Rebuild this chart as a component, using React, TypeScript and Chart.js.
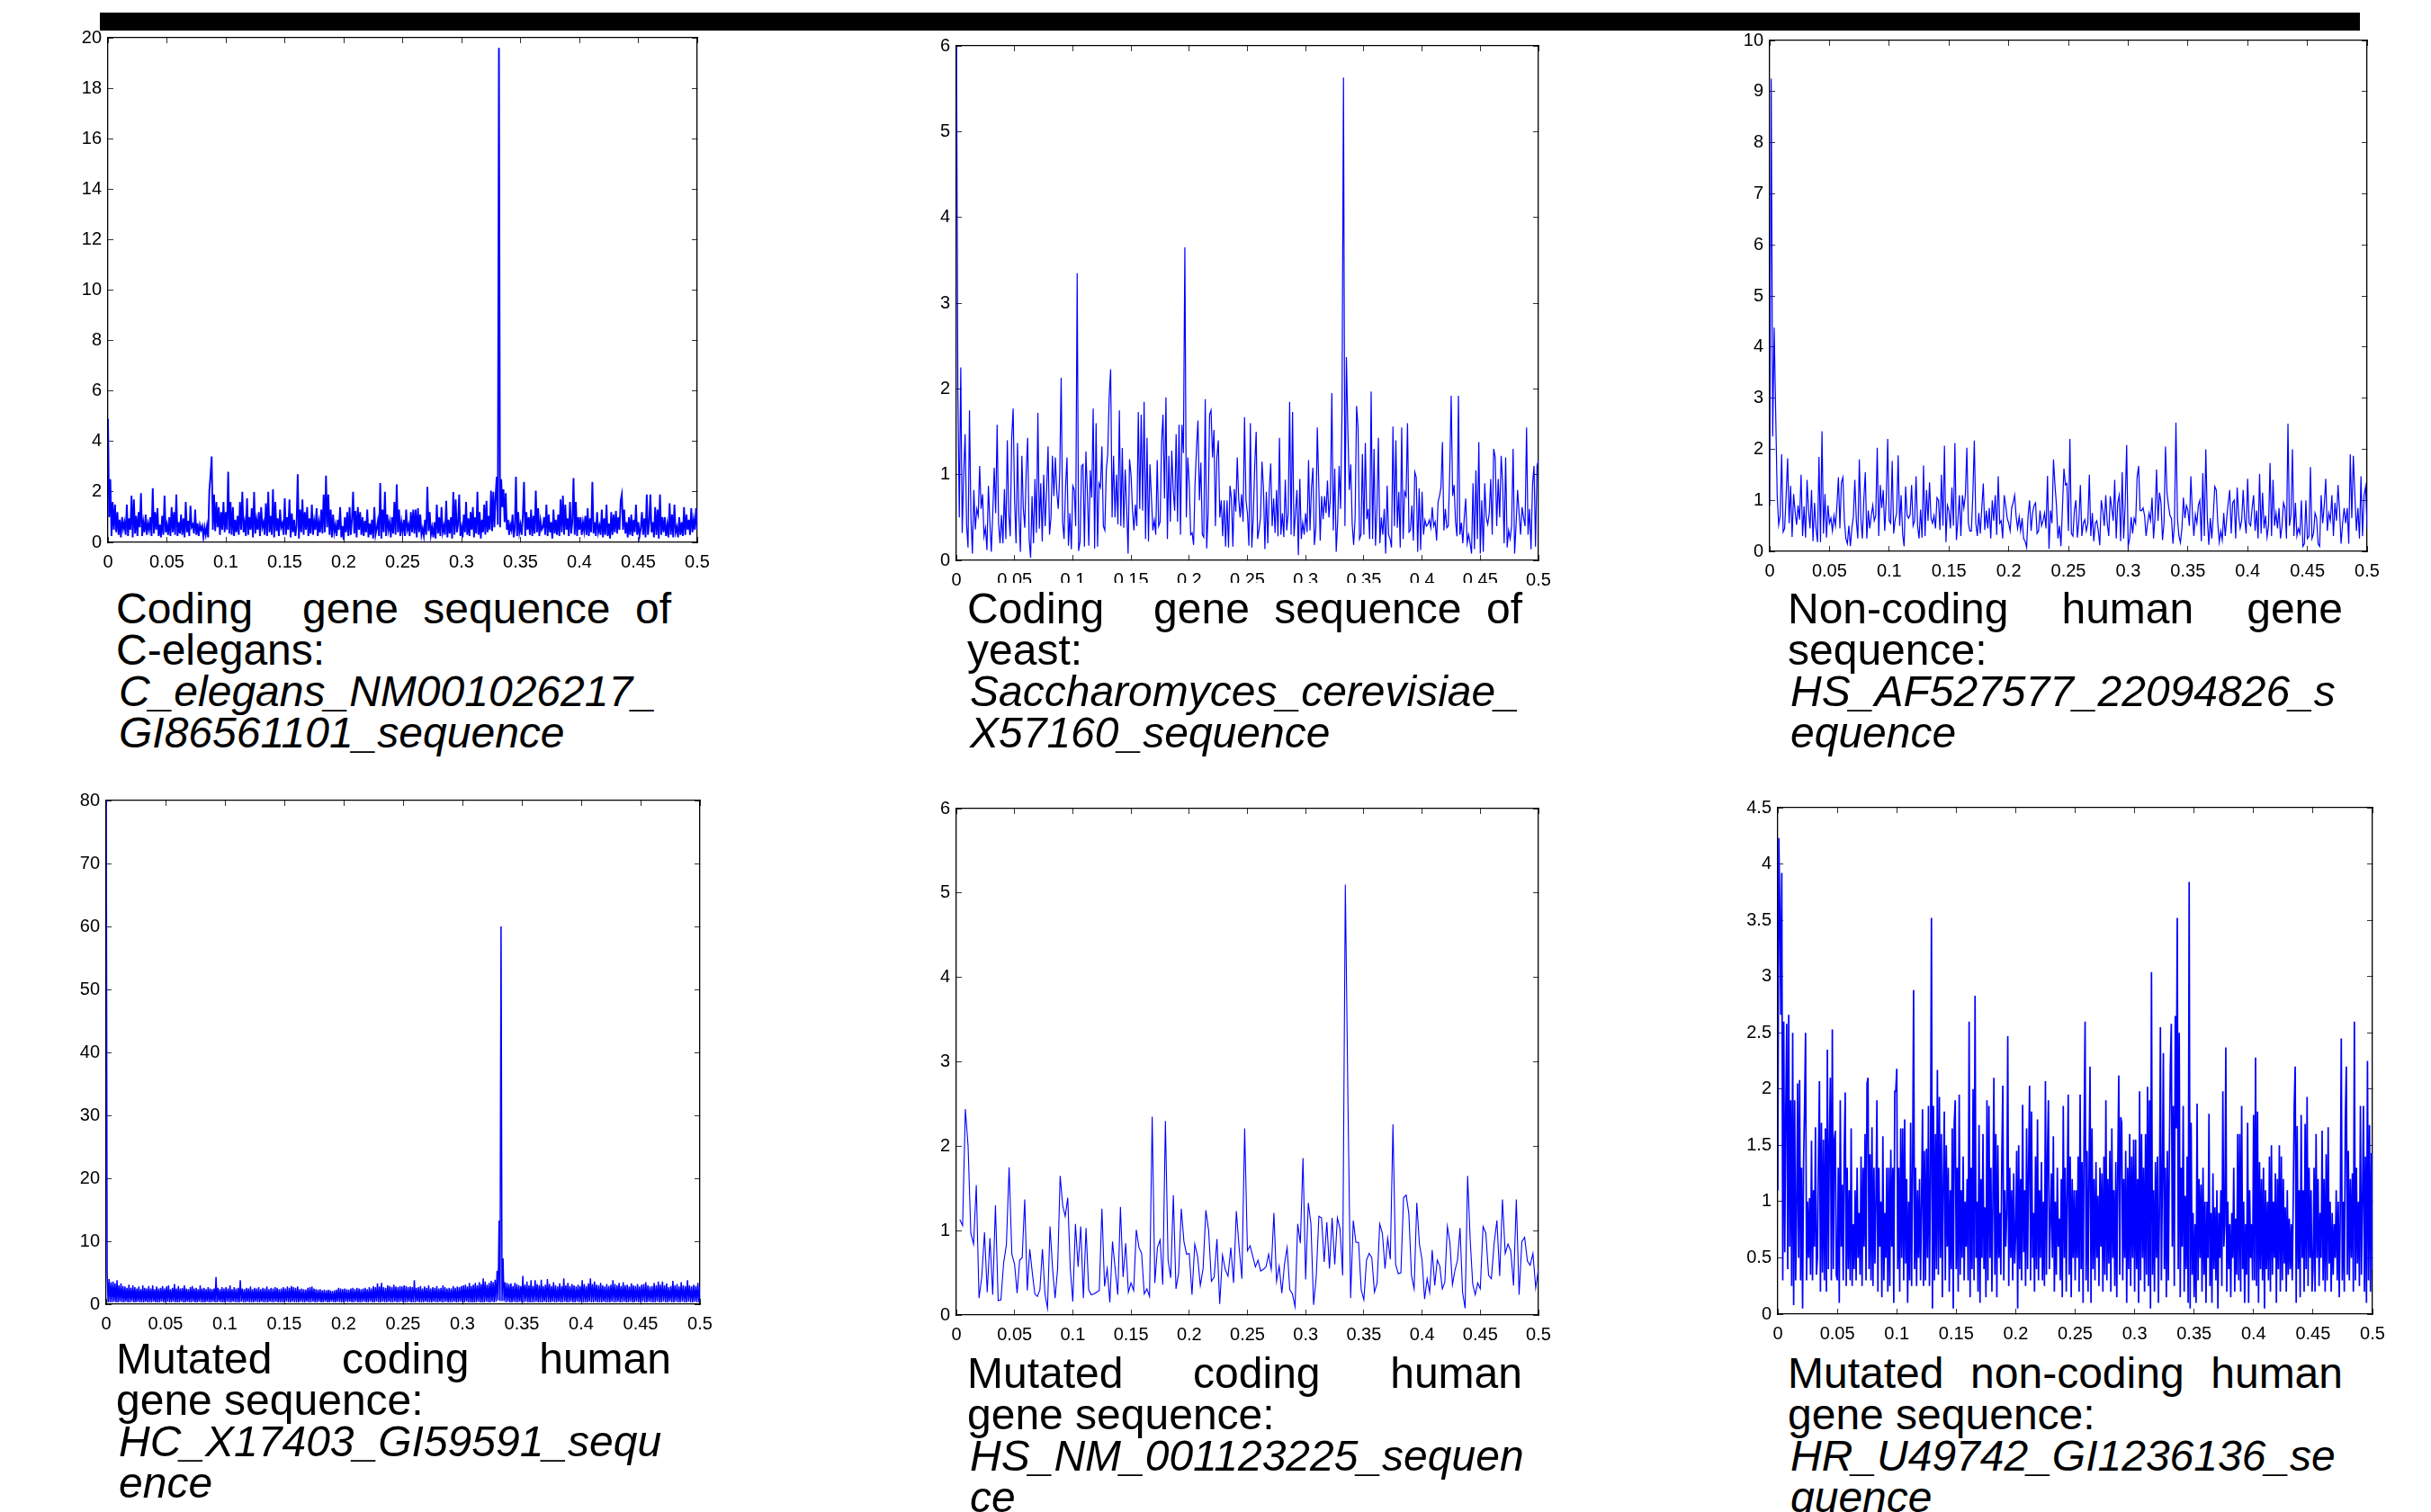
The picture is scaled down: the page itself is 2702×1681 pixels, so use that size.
import React, { useEffect, useRef } from "react";
import Chart from "chart.js/auto";

const elegansRows = [
[4.9,1.0,2.5,.25,1.6,.5,1.5,.4,1.2,.3,.9,.2,1.0,.55,.8,.3,1.5,.25,.95,.5,1.85,.2,1.7,.35,1.05,.25,1.2,.6,1.95,.25,.8,.4,1.1,.3,.75,.5,1.0,.25,2.15,.35,1.2,.5,1.35,.25,.7,.2,1.05,.3,1.85,.4],
[.7,.3,1.0,.25,1.4,.4,1.2,.3,1.9,.25,.8,.35,1.1,.3,.95,.2,1.6,.4,.85,.25,1.45,.6,.7,.35,1.3,.3,.75,.25,.7,.5,.65,.2,.6,.3,.65,.2,2.05,2.65,3.4,.5,1.9,.45,1.6,.6,1.4,.3,1.2,.5,1.6,.4],
[1.2,.5,2.8,.35,1.6,.3,1.4,.25,.9,.4,1.05,.3,1.6,.5,2.0,.4,.8,.25,1.75,.3,1.0,.5,1.35,.2,2.0,.35,.9,.5,1.2,.25,1.4,.6,.8,.3,1.55,.25,2.0,.4,1.05,.3,2.1,.2,1.6,.45,.95,.25,1.3,.6,.75,.3],
[1.75,.3,1.0,.5,1.7,.2,1.15,.4,.9,.25,.65,2.7,.15,1.3,.4,1.7,.3,1.2,.5,1.4,.25,.95,.35,1.5,.3,.85,.5,1.35,.25,.8,.4,1.3,.35,1.9,.4,2.65,.6,1.9,.3,1.3,.2,1.1,.4,.7,.25,.9,.5,1.4,.2,.65],
[.1,1.0,.4,1.2,.25,1.4,.3,.9,2.0,.35,1.25,.2,1.4,.5,1.2,.3,1.0,.25,.85,.4,1.3,.2,.75,.3,.9,.15,1.4,.3,.55,.85,.25,2.35,.15,1.3,.4,2.0,.25,1.1,.5,.8,.2,1.0,.35,1.6,.3,2.3,.4,1.3,.25,.8],
[.4,.9,.25,1.3,.5,.7,.25,1.2,.4,1.3,.35,1.3,.2,1.35,.4,1.1,.3,.55,.25,.9,.3,2.2,.45,1.2,.3,.6,.2,.8,.15,1.5,.35,1.0,.25,1.4,.4,.65,.3,1.65,.2,.9,.35,1.0,.15,2.0,.3,1.7,.4,.7,1.9,.25],
[.6,.2,1.1,.4,1.6,.3,.95,.25,1.2,.5,1.4,.2,1.0,.35,2.0,.3,1.2,.15,.9,.4,1.5,.3,1.65,.4,1.05,.5,2.05,.45,2.0,.6,1.8,2.6,.7,19.6,.6,2.5,1.4,2.1,.8,1.95,.5,.9,.3,.7,.5,1.1,.2,.55,2.6,.25,1.2,.4],
[.7,.3,1.05,2.4,.25,1.2,.5,1.0,.3,1.3,.25,1.05,.35,2.05,.4,1.35,.25,.85,.5,.6,1.0,.3,1.5,.25,1.1,.4,.8,.15,1.3,.35,.9,.3,1.1,.25,1.7,.4,1.85,.3,1.5,.5,.95,.25,1.6,.35,.8,2.55,.3,1.6,.25,1.0],
[.5,1.0,.3,.8,.45,1.05,.3,1.35,.25,.95,.4,2.4,.35,.8,.25,1.2,.4,.65,.3,1.3,.2,.95,.3,1.5,.25,.75,.15,1.2,.3,1.1,.4,1.25,.35,1.0,.5,1.65,1.9,.5,1.3,.35,.8,.2,1.0,.3,1.1,.25,.9,.4,1.5,.3],
[.8,.25,.55,1.2,.3,.95,.2,1.9,.3,.75,1.9,.4,.8,.2,1.4,.3,1.3,.15,1.9,.3,1.0,.4,1.0,.25,.7,.2,1.55,.3,1.1,.2,1.5,.4,.6,.2,1.0,.3,.8,.25,1.4,.3,1.1,.5,.9,.3,1.35,.4,.9,.5,1.35,.5],
];

const yeastRows = [
[6.5,2.0,.5,2.25,.32,1.0,1.47,.42,.15,1.75,.5,.08,.82,.36,.6,.52,1.1,.6,.77,.28,.38,.12,.87,.45,.1,.55,1.08,.55,1.58,.43,.2,.53,.2,.83,.25,1.4,.55,.28,1.42,1.77],
[.7,.2,1.37,.5,.1,1.22,.6,.38,1.05,1.43,.25,.03,.75,.2,.95,.32,1.72,.37,.9,.22,1.0,.4,.82,1.33,.3,.5,1.22,.75,1.2,.8,.6,1.0,2.13,.45,.25,.85,1.2,.17,.55,.13],
[.87,.82,.4,3.35,.11,.22,1.1,1.12,.16,1.27,.8,.17,1.05,.73,1.77,.14,1.6,.16,.9,.85,1.33,.4,.35,1.05,1.24,1.9,2.23,.5,1.22,.5,1.0,.42,1.75,.4,1.31,.38,1.06,.62,.08,1.18],
[1.0,.6,.35,.65,.4,1.73,.6,1.7,.58,1.85,.25,1.43,.22,1.12,.74,.35,.47,.3,1.17,.4,.45,1.37,1.7,.72,1.9,.25,1.22,.45,1.28,.82,.58,1.47,.45,1.58,.3,1.58,1.25,3.65,.5,1.2],
[.9,.3,.32,.18,.9,1.3,1.63,.7,1.14,.3,.27,1.88,.14,.55,1.7,1.75,1.2,1.52,.4,1.2,1.4,.5,.7,.28,.7,.16,.7,.15,.87,.72,.16,.83,.57,1.2,.72,.5,.77,.45,1.67,.7],
[.55,.17,1.6,.15,.5,1.1,1.5,.25,.36,.5,1.15,.85,.13,.8,.2,.82,1.13,.4,.72,.32,.82,.28,1.43,.3,.55,.27,.94,.35,.55,1.85,.3,1.73,.28,.55,.82,.06,.95,.25,.44,.3],
[.55,.33,1.17,.35,.85,1.08,.18,.38,1.55,.9,.23,.75,.48,.75,.55,.93,.5,.72,1.95,.35,1.07,.1,.45,1.1,.6,1.77,5.63,.4,2.37,1.53,.82,1.12,.42,.18,.5,1.8,1.55,.25,.3,1.24],
[.3,1.37,.48,.6,.25,1.97,.25,1.3,.17,.6,1.43,.2,.5,.3,.6,.08,.87,.3,.25,.15,1.56,.4,1.4,.38,.8,.15,1.55,.25,.8,.75,1.6,.33,.35,.64,.23,1.03,.97,.1,.84,.12],
[.8,.3,.47,.4,.42,.47,.38,.62,.4,.45,.23,.68,.75,.85,1.38,.35,.6,.38,.4,1.03,1.92,.75,.88,.45,.28,1.92,.3,.44,.2,.5,.72,.2,.3,.2,.08,.9,.13,1.05,.25,1.38],
[.08,.7,.1,.9,.5,.42,.55,.95,.3,1.3,1.2,.4,.95,.5,1.22,.9,.2,1.2,.15,.35,.25,.4,1.3,.08,.42,.82,.55,.3,.62,.5,.4,1.55,.3,.6,.13,.88,1.1,.16,1.1,1.17],
];

const nonCodingRows = [
[.9,9.25,2.25,4.38,2.7,1.1,.52,.7,1.9,.38,.45,1.1,1.82,.55,1.28,.28,1.12,.78,.52,.9,.62,1.5,.3,.88,.27,1.4,.8,.45,1.2,.2,.95,.45,.18,1.85,.18,2.35,.35,1.12,.27,.9],
[.55,.65,.4,.7,.5,.9,1.45,.45,1.35,1.45,.6,.25,.15,.5,.1,.45,.68,1.4,.6,.25,1.8,.65,.25,1.0,1.55,.25,.8,.45,.7,.9,.6,.7,2.03,.3,1.3,.85,1.2,.4,1.0,2.2],
[.6,.55,1.77,.35,.62,.75,1.88,.5,1.1,.33,.1,1.27,.7,.65,.72,1.3,.5,.6,1.47,.5,.25,.82,.27,1.68,.3,1.2,.6,1.35,.65,.55,.7,.45,1.05,1.0,.42,1.5,.5,2.07,.18,.9],
[.8,.45,1.25,.5,2.12,.22,.6,1.1,.3,1.1,.85,1.1,2.03,.55,.4,.4,1.1,2.17,.55,.3,.75,.35,.85,1.33,.42,.8,.45,.85,.25,1.0,.6,1.1,.32,1.47,.55,.6,.25,1.1,.9,.65],
[.55,.4,.85,.95,1.1,.68,.45,.68,.4,.65,.25,.2,.08,.7,1.0,.4,.75,.9,.95,.35,.4,.8,.5,.6,.75,.45,1.48,.05,.8,.55,1.8,1.3,.9,.25,.5,.1,.85,1.62,1.3,1.33],
[.4,2.2,.35,.3,.8,1.0,.27,.6,1.3,.3,.55,.62,.4,.55,1.5,.3,.75,.2,.55,.6,.4,.12,1.0,.8,.5,1.1,.55,.3,1.08,.85,.6,1.4,.25,.95,1.1,.2,1.55,.25,.9,2.08],
[.1,.25,.67,.35,.65,.55,1.45,1.67,.8,.8,.85,.7,.3,.55,.75,.6,1.05,.25,.68,1.6,.6,1.15,.95,.22,.55,2.05,1.15,.9,.7,.65,.15,.55,2.52,.65,.3,.17,.45,1.05,.65,.9],
[.8,.5,1.47,.75,.3,.72,.55,.9,1.0,.2,1.53,.3,2.0,.65,.13,.65,.25,.7,1.27,1.2,.55,.18,.4,.22,.75,.3,.65,.95,1.2,.35,.95,1.0,.25,1.25,.7,.45,.6,1.2,.65,.35],
[1.42,.55,.5,.85,1.1,.4,.8,.25,1.52,.35,1.15,.45,.7,.28,.5,1.73,.3,1.4,.5,.75,.45,.85,.25,.5,.95,.85,.25,2.5,.5,.7,2.0,.3,.95,.3,.45,.35,1.0,.1,.15,1.0],
[.25,.3,1.65,.25,.35,.75,.65,.15,.1,1.1,.55,.9,1.42,.4,.75,.6,1.1,.3,.95,.6,1.3,.8,.15,.55,.85,.55,.85,.15,1.9,.65,1.87,1.1,.4,.85,.25,1.47,.3,1.1,1.27,.45],
];

const mutatedCodingARows = [
[85,5,.3,4,.3,3.5,.3,3.6,.4,3.3,.3,3.8,.3,3.0,.4,3.3,.3,2.9,.3,2.8,.4,2.6,.3,3.1,.3,2.6,.4,3,.3,2.7,.3,2.5,.4,2.8,.3,2.4,.3,3.0,.3,2.6,.4,2.5,.3,2.9,.3,2.5,.3,3.0,.4,2.4,.3,2.8,.3,2.5,.3,2.6,.4,2.9,.3,2.5],
[.3,2.8,.4,3.0,.3,2.4,.3,2.6,.4,3.2,.3,2.5,.3,2.9,.3,2.5,.4,2.6,.3,3.0,.3,2.5,.4,2.4,.3,2.7,.3,2.9,.4,2.5,.3,2.6,.3,2.4,.4,3.0,.3,2.5,.3,2.6,.3,2.4,.4,2.7,.3,2.5,.3,2.4,.4,2.5,.3,4.3,.3,2.6,.4,2.4,.3,2.7,.3,2.5],
[.3,2.7,.4,2.5,.3,3.0,.3,2.4,.4,2.7,.3,2.5,.3,2.6,.3,3.8,.4,2.5,.3,2.4,.3,2.6,.4,2.5,.3,2.8,.3,2.4,.3,2.6,.4,2.5,.3,2.7,.3,2.4,.4,2.6,.3,2.5,.3,2.8,.3,2.4,.4,2.6,.3,2.5,.3,2.7,.4,2.6,.3,2.4,.3,2.5,.3,2.7],
[.3,2.5,.4,2.8,.3,2.6,.3,2.9,.4,2.7,.3,2.6,.3,2.8,.3,2.4,.4,2.5,.3,2.4,.3,2.3,.4,2.6,.3,2.7,.3,2.8,.4,2.5,.3,2.4,.3,2.3,.4,2.4,.3,2.2,.3,2.3,.4,2.2,.3,2.3,.3,2.2,.4,2.1,.3,2.2,.3,2.3,.4,2.6,.3,2.5,.3,2.4],
[.3,2.5,.4,2.4,.3,2.3,.4,2.5,.3,2.6,.3,2.4,.4,2.6,.3,2.5,.3,2.4,.3,2.5,.4,2.6,.3,2.4,.3,2.7,.4,2.5,.3,2.9,.3,2.7,.4,3.3,.3,2.8,.3,3.4,.4,2.7,.3,2.6,.3,3.0,.4,2.9,.3,2.7,.3,3.1,.4,2.8,.3,2.7,.3,2.9,.4,2.8],
[.3,3,.3,2.9,.3,2.7,.4,2.8,.3,2.7,.3,3.8,.3,2.6,.4,2.7,.3,2.9,.3,2.5,.3,2.8,.4,2.6,.3,3.0,.3,2.5,.3,2.7,.4,2.6,.3,2.9,.3,2.5,.4,2.6,.3,3.0,.3,2.7,.4,2.5,.3,2.6,.3,2.5,.3,2.9,.4,2.6,.3,2.8,.3,2.7,.4,2.9],
[.3,3.0,.3,3.1,.4,2.8,.3,3.4,.3,2.9,.3,3.1,.3,3.4,.3,3.0,.4,3.5,.3,3.2,.3,4.1,.3,3.6,.4,3.1,.3,3.4,.3,3.7,.4,3.5,.3,3.9,.4,5.3,.6,13.3,.5,60,.5,7.3,.5,3.5,.3,3.4,.4,3.2,.3,3.3,.3,2.9,.4,3.4,.3,3.2,.3,3.0,.4,2.9],
[.3,4.5,.3,3.1,.4,3.6,.3,3.0,.3,3.8,.3,2.9,.3,3.8,.4,3.2,.3,3.0,.3,3.9,.3,2.9,.4,3.1,.3,4.0,.3,3.2,.3,2.9,.4,3.5,.3,3.0,.3,2.8,.4,3.3,.3,2.9,.3,4.1,.4,3.0,.3,3.4,.3,2.9,.4,3.2,.3,3.0,.3,2.8,.4,3.1,.3,2.9],
[.4,3.8,.3,3.2,.3,2.9,.3,3.3,.4,4.1,.3,3.2,.3,3.6,.4,3.1,.3,3.0,.3,3.4,.3,3.0,.4,2.8,.3,3.2,.3,2.9,.3,3.1,.4,3.8,.3,3.2,.3,3.0,.4,3.4,.3,2.9,.3,3.5,.4,3.0,.3,3.1,.3,2.8,.4,3.3,.3,3.0,.3,2.9,.4,3.2,.3,2.8],
[.3,3.1,.4,3.2,.3,3.5,.3,3.0,.4,2.8,.3,2.9,.3,3.4,.3,3.0,.4,3.6,.3,3.1,.3,3.6,.4,3.0,.3,3.3,.3,2.7,.4,2.9,.3,3.7,.3,3.0,.4,3.2,.3,2.8,.3,3.5,.4,3.0,.3,2.9,.3,3.8,.4,3.0,.3,2.8,.3,3.1,.4,2.9,.3,3.4,.3,2.8],
];

const mutatedCodingBRows = [
[1.13,1.06,2.44,2.0,.97,.84,1.54,.2,.45,.98,.27,.91,.24,1.3,.17,.18,.62,.83,1.75,.72],
[.6,.26,.65,.68,1.37,.29,.78,.5,.25,.22,.3,.78,.25,.08,1.05,.55,.2,.55,1.65,1.3,1.17,1.39,.55],
[.16,1.08,.57,1.05,.2,1.03,.3,.24,.25,.27,.29,1.26,.34,.55,.15,.87,.55,.24,1.28,.45,.85,.27],
[.38,.29,1.01,.8,.73,.25,.31,.22,2.35,.38,.8,.89,.36,2.3,.65,.44,1.42,.31,.5,1.26,.87,.72],
[.73,.24,.84,.7,.35,.55,1.24,1.0,.4,.45,.9,.13,.71,.54,.46,.8,.38,1.23,.8,.43,2.21],
[.76,.82,.7,.57,.65,.52,.54,.57,.72,.54,1.21,.4,.58,.26,.6,.8,.3,.25,.1,1.08,.85,1.86],
[.42,1.33,1.08,.12,.45,1.17,1.15,.63,1.1,.55,1.15,.6,1.15,1.02,.47,5.1,2.5,.2,1.12,.86,.86,.3],
[.18,.65,.73,.68,.27,.38,1.08,.97,.55,.91,.66,2.26,.6,.49,.5,1.39,1.42,1.2,.47,.31,1.33,.84],
[.65,.19,.43,.27,.77,.35,.65,.58,.31,.39,1.05,.86,.36,.53,.65,1.03,.27,.08,1.65,.9,.37,.24,.38],
[.31,1.05,.97,.47,.43,.85,1.12,.46,1.37,.73,.84,.76,.35,1.37,.24,.87,.92,.64,.59,.73,.32,.55],
];

const mutatedNonCodingRows = [
[1.1,4.23,3.6,2.66,3.92,.3,2.6,.55,1.8,2.58,.4,2.66,.6,1.9,.25,2.5,.08,1.9,.3,.9,2.05,.5,2.08,.3,1.3,.05,1.36,1.85,2.5,.3,1.0,.5,1.03,.35,1.54,.3,1.1,.6,1.66,.35,.5,1.4,2.07,.2,1.7,.37,1.55,.3,1.65,.2,2.35,.4,1.5,2.1,.3,2.53,.4,1.55,1.63,.35],
[.3,1.3,.1,1.9,.6,1.15,.3,1.43,1.97,.25,1.3,.4,1.1,.3,1.65,.25,.8,.4,1.1,.3,1.3,.5,.9,.35,1.4,.25,1.3,.6,1.6,.3,2.05,2.1,.4,1.42,.3,1.66,.25,1.3,.45,1.0,1.9,.2,1.3,.6,1.0,.15,1.58,.3,.9,.5,1.3,.2,1.3,.25,1.46,.6,1.3,.1,1.98,1.98],
[2.18,.4,1.3,.2,1.65,.5,1.65,.3,1.73,.45,1.2,.1,1.0,.3,1.7,.25,1.3,2.88,.4,1.3,.25,1.1,.5,1.2,.3,1.0,1.82,.25,1.45,.3,1.47,.5,1.85,.25,1.2,3.52,.05,1.85,.3,1.6,.4,2.17,.35,1.93,.5,1.6,.15,1.2,1.8,.3,1.5,.6,1.3,.2,1.1,.4,1.65,.05,1.7,1.9],
[.4,1.3,.2,1.95,.35,1.1,.5,1.4,.3,1.0,.6,1.2,.3,2.6,.15,1.3,.4,2.0,.3,2.83,.5,1.0,.2,1.68,.1,1.2,.5,1.6,.4,.95,.15,1.9,.3,1.85,.5,1.3,.2,1.0,2.1,.35,1.6,.15,1.5,.5,.9,.35,1.4,2.03,.3,1.1,.6,.9,2.47,.25,1.3,.5,1.1,.3,1.25,.45],
[.7,1.45,.05,1.5,.4,1.2,.3,1.86,.55,1.1,.25,1.65,.4,1.3,2.03,.3,1.8,.5,.9,.2,1.4,.4,1.73,.3,1.1,.5,1.35,.3,1.0,.25,2.07,.35,1.4,1.9,.4,.8,1.25,.5,1.58,.2,1.0,.35,1.3,.6,.85,.3,1.2,.15,1.85,.5,1.3,.2,1.1,1.95,.35,1.4,.15,1.2,.5,1.1],
[.3,1.1,.5,1.4,.2,1.95,.4,1.35,.1,1.6,2.6,.3,1.45,.2,1.25,2.2,.1,1.65,.4,1.2,.3,1.35,.5,1.05,.25,1.3,.6,1.25,.2,1.4,.35,1.9,.3,1.2,.45,1.45,.2,1.65,.5,1.1,.25,1.35,.15,1.3,2.12,.35,1.75,1.7,.3,1.2,.5,1.45,.1,1.3,.4,1.6,.25,1.4,.5,1.55],
[.2,1.55,.4,1.2,.1,1.98,.3,1.6,.5,1.3,.2,1.6,.35,2.02,.25,1.9,.05,3.04,.35,1.1,.2,1.35,.5,1.4,.1,.9,2.55,.3,1.2,2.32,.4,1.3,.15,1.45,.3,1.4,2.2,2.58,.6,1.85,.25,2.65,1.65,3.52,.4,2.5,.15,1.3,.6,1.85,.2,1.05,.4,1.4,.1,3.84,.05,1.7,.35,.9],
[.15,.8,.1,1.87,.3,1.2,.5,1.15,.2,1.3,.35,1.0,.1,1.0,.5,1.78,.25,.9,.1,1.25,.4,.95,.3,1.1,.05,.9,.5,1.1,.25,1.98,.6,.8,2.37,.2,1.0,.4,.8,.15,.9,.5,1.3,.2,.85,.35,1.6,.3,1.6,.2,1.85,.4,1.0,.1,.8,.35,1.7,.1,1.1,.5,.8,.3],
[1.77,.3,2.28,.25,1.8,.1,1.35,.4,1.2,.3,1.3,.05,1.1,.4,1.0,.3,1.4,.2,1.5,.35,1.0,.5,1.25,.1,1.2,.4,1.5,.2,1.4,.3,1.2,.45,.95,.2,1.1,.35,.85,.4,.8,.3,1.0,1.85,2.2,.1,1.67,.4,1.1,.15,1.77,.5,1.1,.2,1.69,.4,1.93,.25,1.3,.5,1.1,.2],
[.4,1.3,.2,1.6,.5,1.2,.25,.9,.5,1.63,.3,1.2,.2,1.42,.3,1.66,.45,1.0,.2,.9,.35,.8,.5,1.1,.3,1.0,.15,.9,2.45,.3,1.0,.2,1.7,2.2,.35,1.45,.3,1.2,.5,1.25,.2,2.6,.3,1.3,.45,1.0,.25,1.85,.35,1.0,1.85,.2,1.4,.1,2.25,.3,1.68,.2,1.43,.4],
];

const captionLines = [
  ["Coding\u00a0 gene sequence of", "C-elegans:", "C_elegans_NM001026217_", "GI86561101_sequence"],
  ["Coding\u00a0 gene sequence of", "yeast:", "Saccharomyces_cerevisiae_", "X57160_sequence"],
  ["Non-coding human gene", "sequence:", "HS_AF527577_22094826_s", "equence"],
  ["Mutated coding human", "gene sequence:", "HC_X17403_GI59591_sequ", "ence"],
  ["Mutated coding human", "gene sequence:", "HS_NM_001123225_sequen", "ce"],
  ["Mutated non-coding human", "gene sequence:", "HR_U49742_GI1236136_se", "quence"],
];

const FONT = '"Liberation Sans", Arial, sans-serif';
const X_MAX = 0.5;
const X_STEP = 0.05;
const PAD_L = 60, PAD_T = 15, PAD_R = 25, PAD_B = 45;

const panels = [
  { rows: elegansRows, yMax: 20, yStep: 2, l: 120, t: 42, r: 775, b: 603, lw: 1.9, c: 0, ct: 654 },
  { rows: yeastRows, yMax: 6, yStep: 1, l: 1063, t: 51, r: 1710, b: 623, lw: 1.2, c: 1, ct: 654 },
  { rows: nonCodingRows, yMax: 10, yStep: 1, l: 1967, t: 45, r: 2631, b: 613, lw: 1.2, c: 2, ct: 654 },
  { rows: mutatedCodingARows, yMax: 80, yStep: 10, l: 118, t: 890, r: 778, b: 1450, lw: 1.5, c: 3, ct: 1488 },
  { rows: mutatedCodingBRows, yMax: 6, yStep: 1, l: 1063, t: 899, r: 1710, b: 1462, lw: 1.1, c: 4, ct: 1504, startX: 0.003 },
  { rows: mutatedNonCodingRows, yMax: 4.5, yStep: 0.5, l: 1976, t: 898, r: 2637, b: 1461, lw: 1.7, c: 5, ct: 1504 },
];

const captionX = [129, 1075, 1987, 129, 1075, 1987];
const CAPTION_W = 617;

function toPoints(rows: number[][], startX = 0) {
  const pts: { x: number; y: number }[] = [];
  rows.forEach((row, r) => {
    const from = r === 0 ? startX : r * X_STEP;
    const to = (r + 1) * X_STEP;
    const last = r === rows.length - 1;
    row.forEach((y, i) => {
      const f = last ? i / (row.length - 1) : i / row.length;
      pts.push({ x: from + (to - from) * f, y });
    });
  });
  return pts;
}

const noPadding = (a: any) => {
  a.paddingLeft = 0;
  a.paddingRight = 0;
  a.paddingTop = 0;
  a.paddingBottom = 0;
};

function Panel({ p }: { p: any }) {
  const ref = useRef<HTMLCanvasElement | null>(null);
  const w = p.r - p.l + PAD_L + PAD_R;
  const h = p.b - p.t + PAD_T + PAD_B;
  useEffect(() => {
    const common = { drawOnChartArea: false, drawTicks: true, tickLength: -6, color: "#333", lineWidth: 1 };
    const border = { display: true, color: "#000", width: 1.3 };
    const chart = new Chart(ref.current as HTMLCanvasElement, {
      type: "line",
      data: {
        datasets: [{
          data: toPoints(p.rows, p.startX),
          xAxisID: "x",
          yAxisID: "y",
          borderColor: "#0000ff",
          borderWidth: p.lw,
          pointRadius: 0,
          tension: 0,
          fill: false,
          borderJoinStyle: "miter",
        }],
      },
      options: {
        animation: false,
        responsive: false,
        events: [],
        layout: { padding: { top: PAD_T, right: PAD_R } },
        plugins: { legend: { display: false }, tooltip: { enabled: false } },
        scales: {
          x: {
            type: "linear", position: "bottom", min: 0, max: X_MAX,
            grid: common, border,
            ticks: {
              stepSize: X_STEP, autoSkip: false, maxRotation: 0, minRotation: 0, color: "#000", padding: 16,
              font: { family: FONT, size: 20 },
              callback: (v: any) => String(+Number(v).toFixed(2)),
            },
            afterFit: (a: any) => { a.height = PAD_B; noPadding(a); },
          },
          x2: {
            type: "linear", position: "top", min: 0, max: X_MAX,
            grid: common, border,
            ticks: { stepSize: X_STEP, display: false, autoSkip: false },
            afterFit: (a: any) => { a.height = 0; noPadding(a); },
          },
          y: {
            type: "linear", position: "left", min: 0, max: p.yMax,
            grid: common, border,
            ticks: {
              stepSize: p.yStep, autoSkip: false, color: "#000", padding: 13,
              font: { family: FONT, size: 20 },
              callback: (v: any) => String(+Number(v).toFixed(1)),
            },
            afterFit: (a: any) => { a.width = PAD_L; noPadding(a); },
          },
          y2: {
            type: "linear", position: "right", min: 0, max: p.yMax,
            grid: common, border,
            ticks: { stepSize: p.yStep, display: false, autoSkip: false },
            afterFit: (a: any) => { a.width = 0; noPadding(a); },
          },
        },
      } as any,
    });
    return () => chart.destroy();
  }, []);
  return (
    <canvas
      ref={ref}
      width={w}
      height={h}
      style={{ position: "absolute", left: p.l - PAD_L, top: p.t - PAD_T, width: w, height: h }}
    />
  );
}

function Caption({ lines, x, top }: { lines: string[]; x: number; top: number }) {
  return (
    <div style={{ position: "absolute", left: x, top: top - 6, paddingTop: 6, width: CAPTION_W, background: "#fff", fontFamily: FONT, fontSize: 48, lineHeight: "46px", color: "#000", overflow: "visible" }}>
      {lines.map((t, i) => (
        <div
          key={i}
          style={{
            whiteSpace: i === 0 ? "normal" : "nowrap",
            textAlign: i === 0 ? "justify" : "left",
            textAlignLast: i === 0 ? "justify" : "left",
            fontStyle: i >= 2 ? "italic" : "normal",
            marginLeft: i >= 2 ? 3 : 0,
          }}
        >
          {t}
        </div>
      ))}
    </div>
  );
}

export default function App() {
  return (
    <div style={{ position: "absolute", left: 0, top: 0, width: 2702, height: 1681, background: "#fff", overflow: "hidden" }}>
      {panels.map((p, i) => <Panel key={i} p={p} />)}
      {panels.map((p, i) => <Caption key={i} lines={captionLines[p.c]} x={captionX[i]} top={p.ct} />)}
      <div style={{ position: "absolute", left: 111, top: 14, width: 2512, height: 20, background: "#000" }} />
    </div>
  );
}
